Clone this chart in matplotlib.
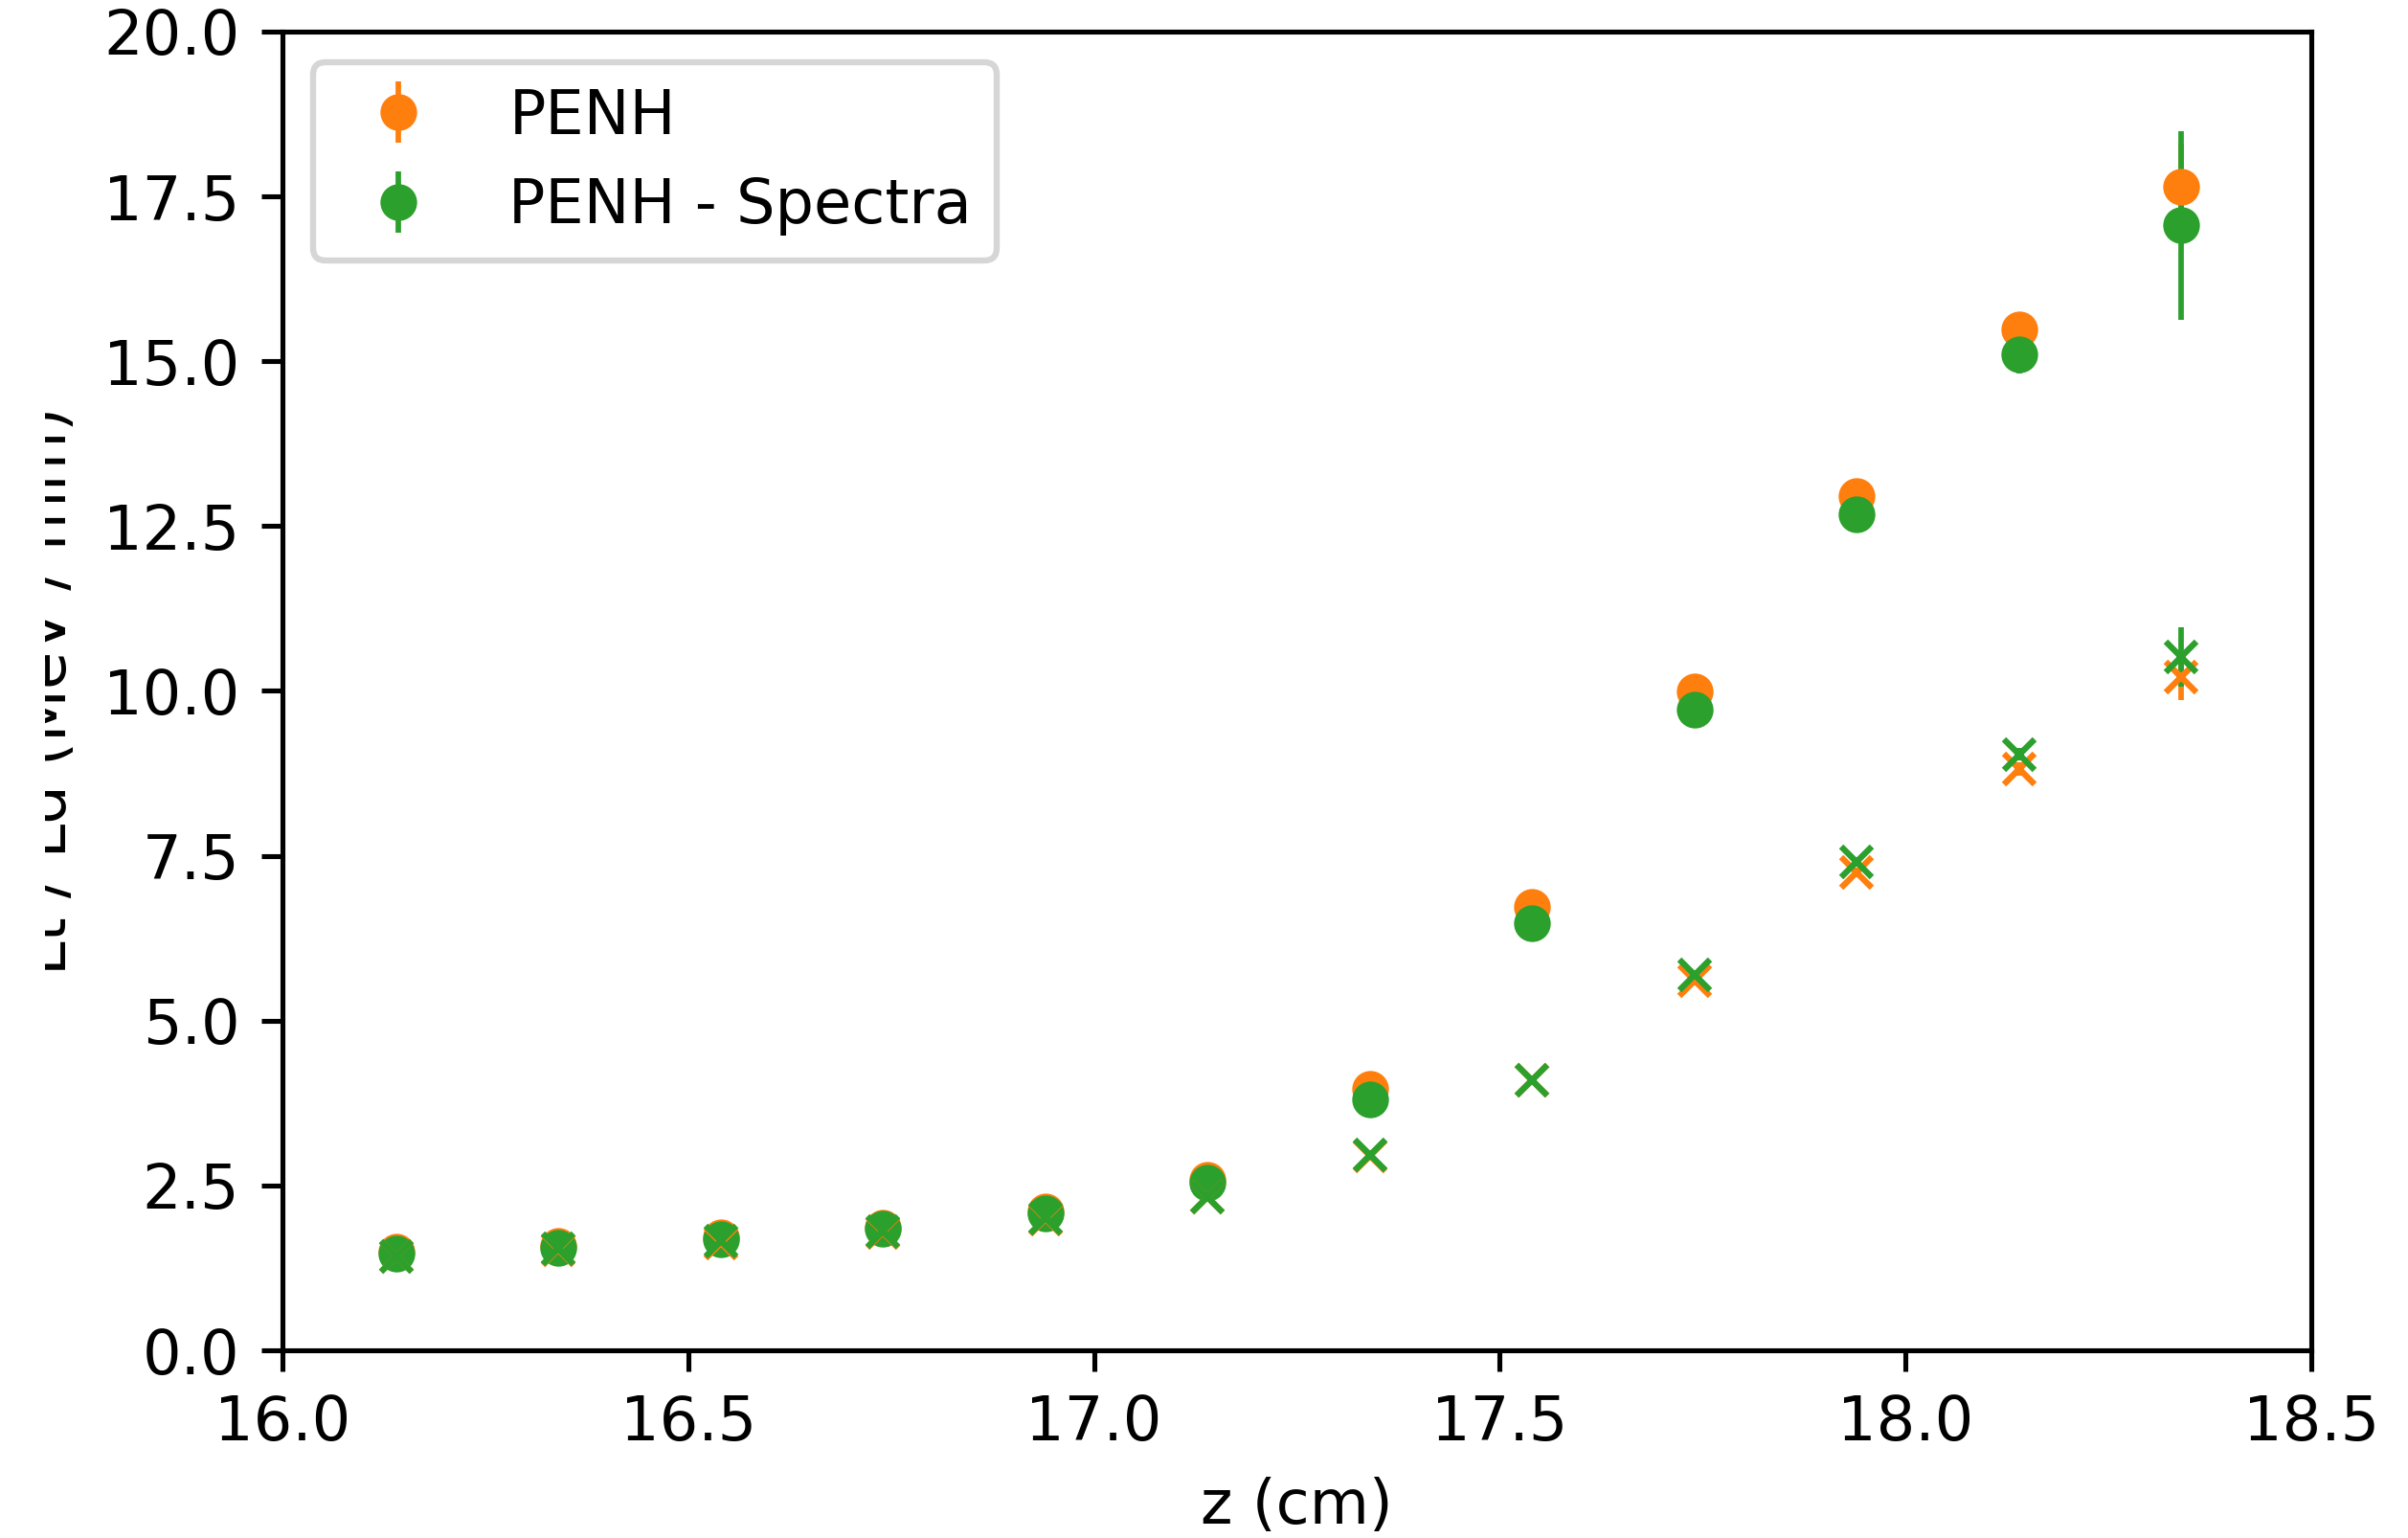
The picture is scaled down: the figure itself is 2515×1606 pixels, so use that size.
import matplotlib
matplotlib.use("Agg")
import matplotlib.pyplot as plt
from matplotlib.transforms import Bbox, TransformedBbox

# depth positions (cm)
z = [16.14, 16.34, 16.54, 16.74, 16.94, 17.14, 17.34, 17.54, 17.74, 17.94, 18.14, 18.34]

# dose-averaged LET (circles)
ld_penh = [1.49, 1.59, 1.71, 1.86, 2.10, 2.58, 3.96, 6.72, 9.99, 12.95, 15.48, 17.65]
ld_penh_err = [0.01, 0.01, 0.01, 0.01, 0.02, 0.02, 0.03, 0.05, 0.08, 0.12, 0.20, 0.65]
ld_spec = [1.46, 1.56, 1.68, 1.84, 2.07, 2.54, 3.80, 6.48, 9.72, 12.68, 15.11, 17.06]
ld_spec_err = [0.01, 0.01, 0.01, 0.01, 0.02, 0.02, 0.03, 0.05, 0.08, 0.12, 0.30, 1.43]

# track-averaged LET (crosses)
lt_penh = [1.42, 1.52, 1.63, 1.78, 1.99, 2.32, 2.95, 4.09, 5.60, 7.25, 8.82, 10.21]
lt_penh_err = [0.01, 0.01, 0.01, 0.01, 0.01, 0.02, 0.02, 0.03, 0.04, 0.06, 0.10, 0.35]
lt_spec = [1.43, 1.54, 1.65, 1.80, 2.01, 2.33, 2.96, 4.10, 5.70, 7.41, 9.04, 10.52]
lt_spec_err = [0.01, 0.01, 0.01, 0.01, 0.01, 0.02, 0.02, 0.03, 0.04, 0.06, 0.10, 0.45]

labels = ["PENH", "PENH - Spectra"]
xticks = [16.0, 16.5, 17.0, 17.5, 18.0, 18.5]
yticks = [0.0, 2.5, 5.0, 7.5, 10.0, 12.5, 15.0, 17.5, 20.0]

DPI = 460
W, H = 2515, 1606
fig = plt.figure(figsize=(W / DPI, H / DPI), dpi=DPI)
ax = fig.add_axes([295 / W, 196 / H, (2414 - 295) / W, (1410 - 33) / H])

c_or = "#ff7f0e"
c_gr = "#2ca02c"
kw = dict(linestyle="none", markersize=5, elinewidth=0.9, capsize=0)

ax.errorbar(z, ld_penh, yerr=ld_penh_err, fmt="o", color=c_or, label=labels[0], **kw)
ax.errorbar(z, ld_spec, yerr=ld_spec_err, fmt="o", color=c_gr, label=labels[1], **kw)
ax.errorbar(z, lt_penh, yerr=lt_penh_err, fmt="x", color=c_or, **kw)
ax.errorbar(z, lt_spec, yerr=lt_spec_err, fmt="x", color=c_gr, **kw)

ax.set_xlim(16.0, 18.5)
ax.set_ylim(0.0, 20.0)
ax.set_xticks(xticks)
ax.set_xticklabels([f"{t:.1f}" for t in xticks])
ax.set_yticks(yticks)
ax.set_yticklabels([f"{t:.1f}" for t in yticks])
ax.set_xlabel("z (cm)")
ylab = ax.set_ylabel("Lt / Ld (MeV / mm)")
# the reference image cuts off the upper part of the y-label glyphs
ylab.set_clip_box(TransformedBbox(Bbox.from_extents(47 / W, 0, 1, 1), fig.transFigure))
ylab.set_clip_on(True)
ax.legend(loc="upper left")

fig.savefig("out.png", dpi=DPI)
